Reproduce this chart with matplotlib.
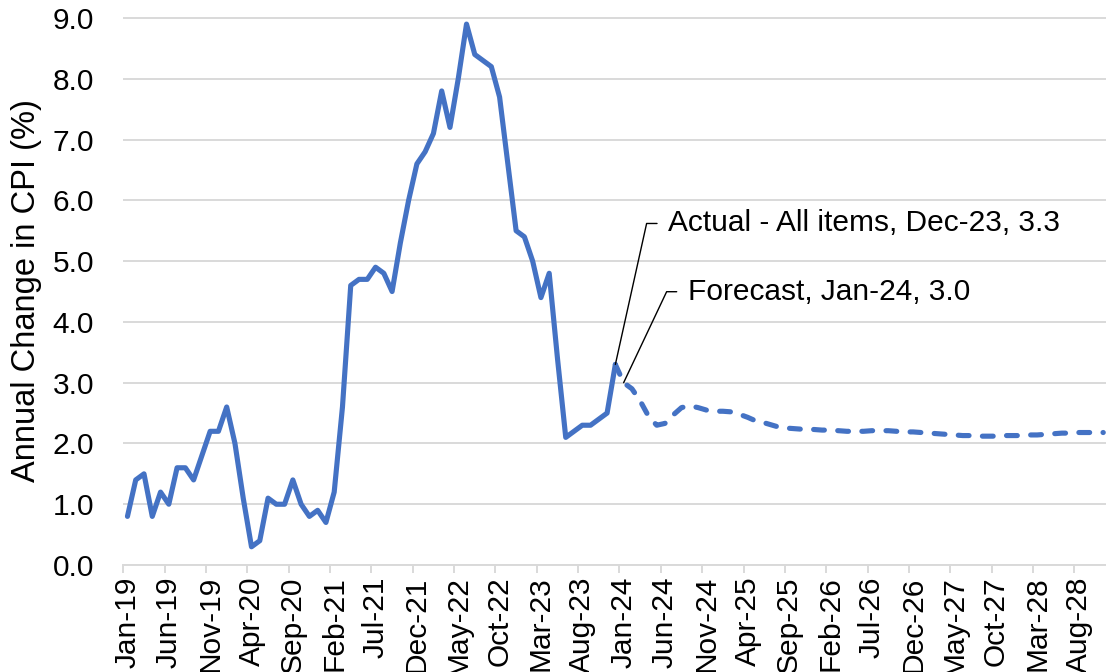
import matplotlib.pyplot as plt
import pandas as pd

plt.rcParams['font.family'] = ['Liberation Sans', 'DejaVu Sans']

# monthly categories Jan-19 .. Nov-28
months = pd.date_range('2019-01-01', periods=119, freq='MS').strftime('%b-%y').tolist()

# actual CPI, Jan-19 .. Dec-23
actual = [0.8, 1.4, 1.5, 0.8, 1.2, 1.0, 1.6, 1.6, 1.4, 1.8, 2.2, 2.2,
          2.6, 2.0, 1.1, 0.3, 0.4, 1.1, 1.0, 1.0, 1.4, 1.0, 0.8, 0.9,
          0.7, 1.2, 2.6, 4.6, 4.7, 4.7, 4.9, 4.8, 4.5, 5.3, 6.0, 6.6,
          6.8, 7.1, 7.8, 7.2, 8.0, 8.9, 8.4, 8.3, 8.2, 7.7, 6.6, 5.5,
          5.4, 5.0, 4.4, 4.8, 3.4, 2.1, 2.2, 2.3, 2.3, 2.4, 2.5, 3.3]

# forecast, Dec-23 .. Nov-28
forecast = [3.3, 3.0, 2.9, 2.7, 2.45, 2.3, 2.33, 2.47, 2.59, 2.62, 2.59, 2.55,
            2.53, 2.53, 2.52, 2.48, 2.43, 2.37, 2.34, 2.30, 2.26, 2.25, 2.24, 2.23,
            2.23, 2.22, 2.22, 2.21, 2.20, 2.20, 2.20, 2.21, 2.21, 2.21, 2.20, 2.19,
            2.19, 2.18, 2.17, 2.16, 2.15, 2.14, 2.13, 2.13, 2.12, 2.12, 2.12, 2.13,
            2.13, 2.13, 2.14, 2.14, 2.15, 2.16, 2.17, 2.17, 2.18, 2.18, 2.18, 2.18]

x_actual = list(range(len(actual)))
x_fc = list(range(len(actual) - 1, len(actual) - 1 + len(forecast)))

blue = '#4472C4'
grid = '#d9d9d9'
fs = 21.5

fig = plt.figure(figsize=(11.06, 6.72), dpi=100)
ax = fig.add_axes([0.1115, 0.1592, 0.8885, 0.8158])

ax.plot(x_actual, actual, color=blue, lw=3.7, solid_joinstyle='round',
        solid_capstyle='round', zorder=3)
ax.plot(x_fc, forecast, color=blue, lw=3.7, dashes=(2.1, 2.6),
        dash_capstyle='round', dash_joinstyle='round', zorder=3)

ax.set_xlim(-0.5, 118.33)
ax.set_ylim(0, 9.02)

ax.set_yticks(range(10))
ax.set_yticklabels([f'{v:.1f}' for v in range(10)])
ax.grid(axis='y', color=grid, lw=1.4)
ax.set_axisbelow(True)

# tick marks between categories, labels on every 5th month
ax.set_xticks([i - 0.5 for i in range(0, 119, 5)])
ax.set_xticklabels([])
ax.set_xticks(list(range(0, 119, 5)), minor=True)
ax.set_xticklabels(months[::5], minor=True, rotation=90)
ax.tick_params(axis='x', which='major', length=6, width=1.4, color=grid)
ax.tick_params(axis='x', which='minor', length=0, pad=8, labelsize=fs)
ax.tick_params(axis='y', length=0, pad=21, labelsize=fs)

for s in ['left', 'right', 'top']:
    ax.spines[s].set_visible(False)
ax.spines['bottom'].set_color(grid)
ax.spines['bottom'].set_linewidth(1.4)

ax.set_ylabel('Annual Change in CPI (%)', fontsize=23.5)
ax.yaxis.set_label_coords(-0.083, 0.5)

# data labels with leader lines
ax.annotate('', xy=(59, actual[-1]), xytext=(30, 101.5), textcoords='offset points',
            arrowprops=dict(arrowstyle='-', color='black', lw=1.0, shrinkA=0, shrinkB=0,
                            connectionstyle='angle,angleA=0,angleB=77.5,rad=0'))
ax.annotate('Actual - All items, Dec-23, 3.3', xy=(59, actual[-1]), xytext=(38, 101.5),
            textcoords='offset points', ha='left', va='center', fontsize=fs)

ax.annotate('', xy=(60, forecast[1]), xytext=(38.2, 65.5), textcoords='offset points',
            arrowprops=dict(arrowstyle='-', color='black', lw=1.0, shrinkA=0, shrinkB=0,
                            connectionstyle='angle,angleA=0,angleB=64.7,rad=0'))
ax.annotate('Forecast, Jan-24, 3.0', xy=(60, forecast[1]), xytext=(46.4, 65.2),
            textcoords='offset points', ha='left', va='center', fontsize=fs)

fig.savefig('out.png', dpi=100)
